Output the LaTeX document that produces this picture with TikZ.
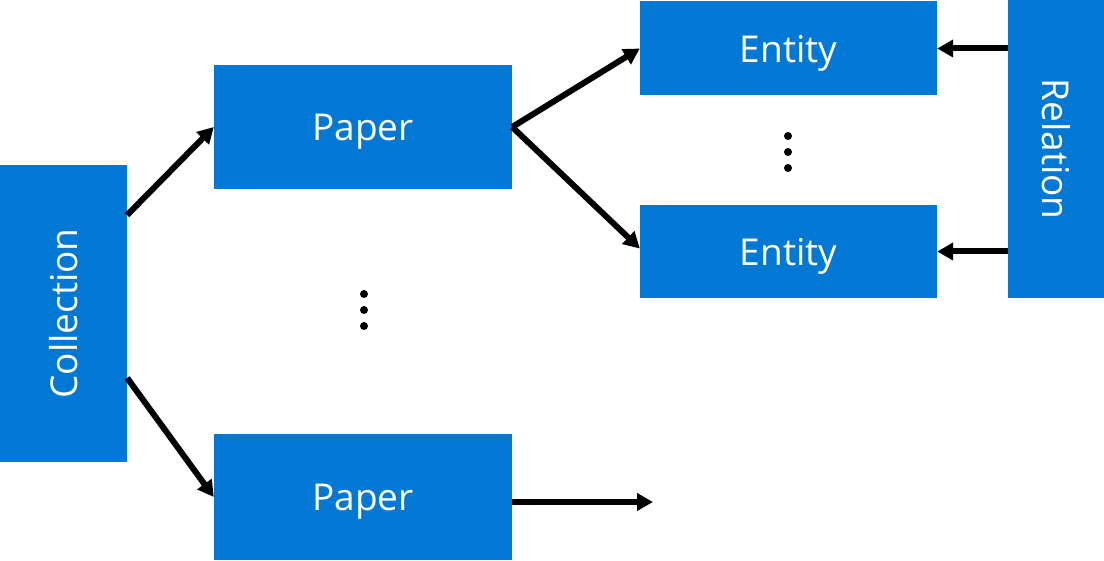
\documentclass[tikz,border=0pt]{standalone}
\usepackage{fontspec}
\setmainfont{Open Sans}
\usetikzlibrary{arrows.meta}
\definecolor{boxblue}{RGB}{0,120,212}
\tikzset{
  block/.style={fill=boxblue, text=white, inner sep=0pt, font=\fontsize{37}{40}\selectfont},
  flat/.style={block, text depth=0pt},
  link/.style={line width=6pt, -{Triangle[length=16pt,width=17pt]}}
}
\begin{document}
\begin{tikzpicture}[x=1pt,y=-1pt]
  \useasboundingbox (0,0) rectangle (1104,561);

  %blocks
  \node[block, minimum width=127pt, minimum height=297pt] (coll) at (63.5,313.5) {\rotatebox{90}{Collection}};
  \node[flat, minimum width=298pt, minimum height=124pt] (paperA) at (363,127) {Paper};
  \node[flat, minimum width=298pt, minimum height=126pt] (paperB) at (363,497) {Paper};
  \node[flat, minimum width=297pt, minimum height=94pt] (entA) at (788.5,48.5) {Entity};
  \node[flat, minimum width=297pt, minimum height=93pt] (entB) at (788.5,251.5) {Entity};
  \node[block, minimum width=96pt, minimum height=298pt] (rel) at (1056,149) {\rotatebox{-90}{Relation}};
  \coordinate (open) at (653,502);

  %dots
  \foreach \y in {294,310,326}
    \fill (364,\y) circle (4pt);
  \foreach \y in {136,152,168}
    \fill (788,\y) circle (4pt);

  %arrows
  \draw[link] ([yshift=98.5pt]coll.east) -- (paperA.west);
  \draw[link] ([yshift=-64.5pt]coll.east) -- (paperB.west);
  \draw[link] (paperA.east) -- (entA.west);
  \draw[link] (paperA.east) -- ([yshift=3pt]entB.west);
  \draw[link] ([yshift=-5pt]paperB.east) -- (open);
  \draw[link] (rel.west |- entA.east) -- (entA.east);
  \draw[link] (rel.west |- entB.east) -- (entB.east);

\end{tikzpicture}
\end{document}
